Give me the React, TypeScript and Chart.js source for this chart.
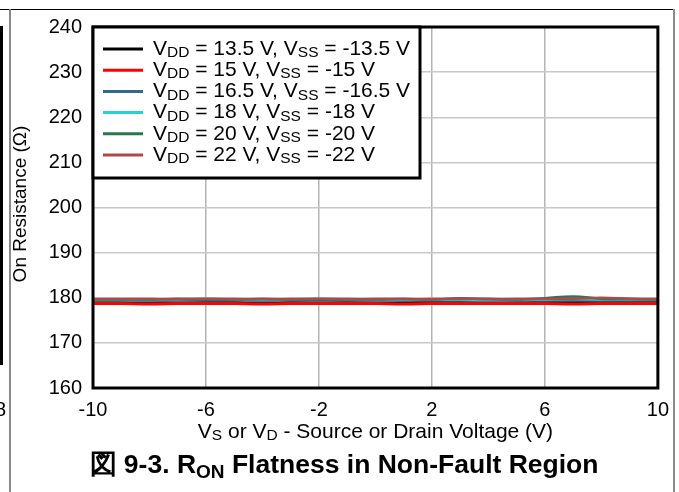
import React, { useEffect, useRef } from "react";
import { Chart, registerables } from "chart.js";

Chart.register(...registerables);

const xValues = [-10, -9, -8, -7, -6, -5, -4, -3, -2, -1, 0, 1, 2, 3, 4, 5, 6, 7, 8, 9, 10];

const seriesLabels = [
  ["13.5", "-13.5"],
  ["15", "-15"],
  ["16.5", "-16.5"],
  ["18", "-18"],
  ["20", "-20"],
  ["22", "-22"],
];
const seriesColors = ["#000000", "#ff0000", "#336a8c", "#22d4d4", "#2f7450", "#b04848"];
const seriesWidths = [2.5, 3, 2.5, 2.5, 2.5, 2.5];

const r135 = [179.1, 179.0, 178.9, 178.9, 179.0, 179.1, 179.0, 179.0, 178.9, 179.0, 179.1, 179.0, 179.0, 179.2, 179.1, 179.0, 179.0, 179.1, 179.1, 179.0, 179.1];
const r15 = [178.7, 178.7, 178.6, 178.7, 178.7, 178.7, 178.6, 178.7, 178.7, 178.7, 178.7, 178.6, 178.7, 178.7, 178.7, 178.7, 178.7, 178.6, 178.7, 178.7, 178.7];
const r165 = [179.4, 179.4, 179.3, 179.4, 179.4, 179.4, 179.3, 179.4, 179.4, 179.4, 179.3, 179.4, 179.4, 179.4, 179.3, 179.4, 179.4, 179.4, 179.4, 179.4, 179.4];
const r18 = [179.5, 179.5, 179.5, 179.6, 179.8, 179.6, 179.5, 179.6, 179.8, 179.6, 179.5, 179.5, 179.6, 179.6, 179.5, 179.5, 179.6, 179.7, 179.6, 179.6, 179.6];
const r20 = [179.6, 179.6, 179.6, 179.7, 179.6, 179.6, 179.7, 179.6, 179.6, 179.6, 179.6, 179.7, 179.6, 179.9, 179.7, 179.6, 179.9, 180.3, 179.8, 179.7, 179.6];
const r22 = [179.7, 179.7, 179.7, 179.7, 179.8, 179.7, 179.7, 179.7, 179.8, 179.7, 179.7, 179.7, 179.7, 179.8, 179.7, 179.7, 179.8, 179.8, 180.0, 179.8, 179.7];
const seriesValues = [r135, r15, r165, r18, r20, r22];

const yMin = 160;
const yMax = 240;
const yStep = 10;
const xMin = -10;
const xMax = 10;
const xStep = 4;

const FONT = '"Liberation Sans", Arial, sans-serif';

type Seg = { t: string; sub?: boolean };

function drawSegs(ctx: CanvasRenderingContext2D, segs: Seg[], x: number, y: number, size: number, subSize: number, bold = false, subOffset = 5) {
  let cx = x;
  for (const s of segs) {
    const fs = s.sub ? subSize : size;
    ctx.font = `${bold ? "bold " : ""}${fs}px ${FONT}`;
    ctx.fillText(s.t, cx, s.sub ? y + subOffset : y);
    cx += ctx.measureText(s.t).width;
  }
  return cx - x;
}

function measureSegs(ctx: CanvasRenderingContext2D, segs: Seg[], size: number, subSize: number, bold = false) {
  let w = 0;
  for (const s of segs) {
    ctx.font = `${bold ? "bold " : ""}${s.sub ? subSize : size}px ${FONT}`;
    w += ctx.measureText(s.t).width;
  }
  return w;
}

const decorPlugin = {
  id: "decor",
  beforeDraw(chart: any) {
    const ctx = chart.ctx;
    ctx.save();
    ctx.fillStyle = "#ffffff";
    ctx.fillRect(0, 0, chart.width, chart.height);
    ctx.restore();
  },
  afterDraw(chart: any) {
    const ctx: CanvasRenderingContext2D = chart.ctx;
    const ca = chart.chartArea;
    ctx.save();
    // page decorations
    ctx.fillStyle = "#000";
    ctx.fillRect(0, 9, 675, 1);
    ctx.fillStyle = "#8a8a8a";
    ctx.fillRect(9, 9, 2, chart.height - 9);
    ctx.fillRect(673, 9, 2, chart.height - 9);
    ctx.fillStyle = "#000";
    ctx.fillRect(0, 26, 3, 339);
    ctx.font = `20px ${FONT}`;
    ctx.textBaseline = "middle";
    ctx.textAlign = "left";
    ctx.fillText("8", -5, 410);

    // plot frame
    ctx.strokeStyle = "#000";
    ctx.lineWidth = 3;
    ctx.strokeRect(ca.left, ca.top, ca.right - ca.left, ca.bottom - ca.top);

    // legend box
    const lx = ca.left;
    const ly = ca.top;
    const lw = 327;
    const lh = 151;
    ctx.fillStyle = "#fff";
    ctx.fillRect(lx, ly, lw, lh);
    ctx.lineWidth = 3;
    ctx.strokeRect(lx, ly, lw, lh);
    ctx.textBaseline = "middle";
    ctx.textAlign = "left";
    for (let i = 0; i < seriesLabels.length; i++) {
      const yy = ly + 22 + i * 21.2;
      ctx.strokeStyle = seriesColors[i];
      ctx.lineWidth = 3;
      ctx.beginPath();
      ctx.moveTo(lx + 10, yy);
      ctx.lineTo(lx + 50, yy);
      ctx.stroke();
      ctx.fillStyle = "#000";
      drawSegs(
        ctx,
        [
          { t: "V" },
          { t: "DD", sub: true },
          { t: ` = ${seriesLabels[i][0]} V, V` },
          { t: "SS", sub: true },
          { t: ` = ${seriesLabels[i][1]} V` },
        ],
        lx + 60,
        yy,
        21,
        15.5,
        false,
        4
      );
    }

    // x axis title
    ctx.fillStyle = "#000";
    const xt: Seg[] = [
      { t: "V" },
      { t: "S", sub: true },
      { t: " or V" },
      { t: "D", sub: true },
      { t: " - Source or Drain Voltage (V)" },
    ];
    const xw = measureSegs(ctx, xt, 21, 15.5);
    drawSegs(ctx, xt, (ca.left + ca.right) / 2 - xw / 2, 432, 21, 15.5, false, 4);

    // y axis title
    ctx.save();
    ctx.translate(21, 204);
    ctx.rotate(-Math.PI / 2);
    ctx.font = `19px ${FONT}`;
    ctx.textAlign = "center";
    ctx.textBaseline = "middle";
    ctx.fillText("On Resistance (\u03A9)", 0, 0);
    ctx.restore();

    // figure title
    const tt: Seg[] = [
      { t: "\u56F3 9-3. R" },
      { t: "ON", sub: true },
      { t: " Flatness in Non-Fault Region" },
    ];
    const tw = measureSegs(ctx, tt, 26.5, 19, true);
    ctx.textAlign = "left";
    drawSegs(ctx, tt, 344 - tw / 2, 466, 26.5, 19, true, 7);
    ctx.restore();
  },
};

export default function App() {
  const ref = useRef<HTMLCanvasElement | null>(null);
  useEffect(() => {
    if (!ref.current) return;
    const datasets = seriesValues.map((vals, i) => ({
      label: `VDD = ${seriesLabels[i][0]} V, VSS = ${seriesLabels[i][1]} V`,
      data: vals.map((v, j) => ({ x: xValues[j], y: v })),
      borderColor: seriesColors[i],
      backgroundColor: seriesColors[i],
      borderWidth: seriesWidths[i],
      pointRadius: 0,
      tension: 0.4,
      order: i === 1 ? 0 : 6 - i,
    }));
    const chart = new Chart(ref.current, {
      type: "line",
      data: { datasets },
      options: {
        animation: false,
        responsive: false,
        devicePixelRatio: 1,
        layout: { padding: { left: 0, top: 27, right: 20, bottom: 0 } },
        plugins: { legend: { display: false }, tooltip: { enabled: false }, title: { display: false } },
        scales: {
          x: {
            type: "linear",
            min: xMin,
            max: xMax,
            afterFit: (s: any) => {
              s.height = 104;
            },
            ticks: {
              stepSize: xStep,
              color: "#000",
              font: { size: 20, family: FONT },
              padding: 10,
              maxRotation: 0,
            },
            grid: { color: "#b4b4b4", lineWidth: 1.5, drawTicks: false },
            border: { display: false },
          },
          y: {
            type: "linear",
            min: yMin,
            max: yMax,
            afterFit: (s: any) => {
              s.width = 93;
            },
            ticks: {
              stepSize: yStep,
              color: "#000",
              font: { size: 20, family: FONT },
              padding: 11,
            },
            grid: { color: "#c8c8c8", lineWidth: 1.5, drawTicks: false },
            border: { display: false },
          },
        },
      },
      plugins: [decorPlugin],
    } as any);
    return () => chart.destroy();
  }, []);
  return (
    <div style={{ position: "fixed", left: 0, top: 0, width: 679, height: 492 }}>
      <canvas ref={ref} width={679} height={492} style={{ width: 679, height: 492 }} />
    </div>
  );
}
